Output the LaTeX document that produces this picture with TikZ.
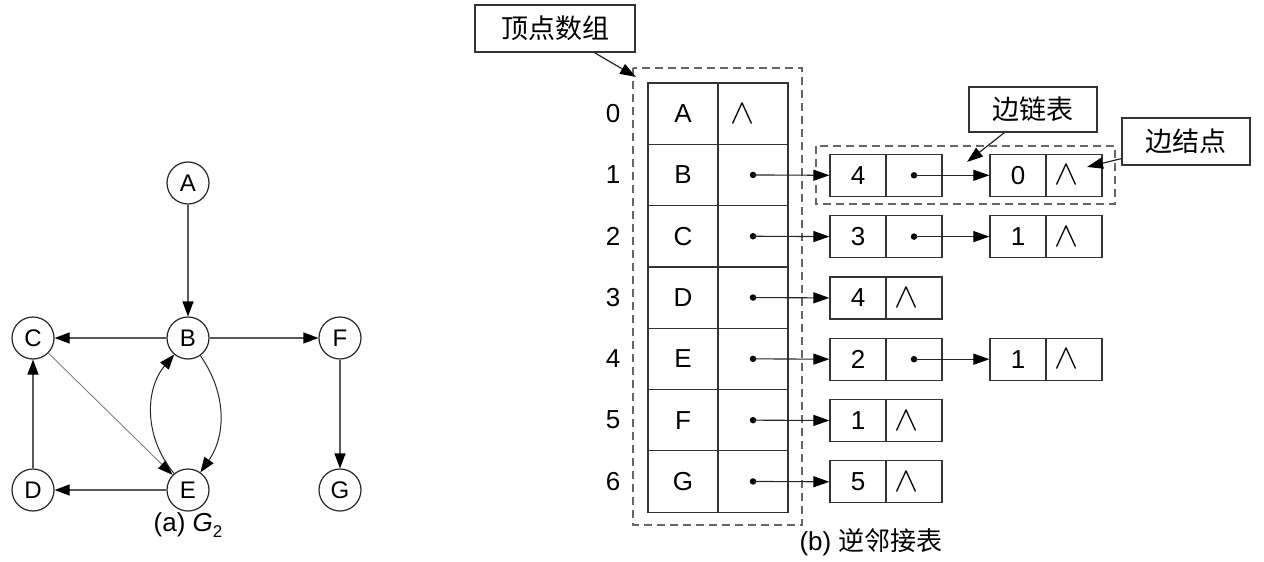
\documentclass[tikz,border=0pt]{standalone}
\usepackage{fontspec}
\setmainfont{Liberation Sans}
\newfontfamily\cjk{Noto Sans CJK SC}
\usetikzlibrary{arrows.meta}
\newcommand{\nullptr}{\scalebox{1.45}[1.4]{\fontsize{24.88}{24.88}\selectfont$\wedge$}}
\begin{document}
\begin{tikzpicture}[x=1pt,y=1pt,
  cell/.style={draw=black!80, line width=1.2pt, minimum width=70pt, minimum height=61.3pt, inner sep=0pt, font=\fontsize{26}{26}\selectfont},
  ecell/.style={draw=black!80, line width=1.2pt, minimum width=56pt, minimum height=42pt, inner sep=0pt, font=\fontsize{26}{26}\selectfont},
  vtx/.style={circle, draw=black!85, line width=1.2pt, minimum size=42pt, inner sep=0pt, font=\fontsize{24}{24}\selectfont},
  garr/.style={-{Triangle[length=15pt,width=11pt,color=black]}, line width=1.2pt, draw=black!65},
  arr/.style={-{Triangle[length=16pt,width=11pt,color=black]}, line width=1.1pt, draw=black!85},
  ptr/.style={circle, fill=black, inner sep=0pt, minimum size=6.5pt},
  dbox/.style={draw=black!60, dash pattern=on 8pt off 5pt, line width=1.4pt},
  call/.style={draw=black!80, line width=1.2pt, inner sep=0pt, font=\cjk\fontsize{27}{27}\selectfont},
  nul/.style={inner sep=0pt},
  idx/.style={font=\fontsize{26}{26}\selectfont},
  lbl/.style={font=\fontsize{26}{26}\selectfont}
]
\useasboundingbox (0,0) rectangle (1264,-562);

% ---------- graph G2 ----------
\node[vtx] (A) at (188,-183) {A};
\node[vtx] (B) at (188,-338) {B};
\node[vtx] (C) at (33,-338) {C};
\node[vtx] (F) at (340,-338) {F};
\node[vtx] (D) at (33,-490) {D};
\node[vtx] (E) at (188,-490) {E};
\node[vtx] (G) at (340,-490) {G};
\draw[garr] (A) -- (B);
\draw[garr] (B) -- (C);
\draw[garr] (B) -- (F);
\draw[garr] (F) -- (G);
\draw[garr] (D) -- (C);
\draw[garr] (E) -- (D);
\draw[garr, draw=black!50, line width=0.9pt] (C) -- (E);
\draw[garr, line width=1pt, draw=black!85] (B) to[bend left=35] (E);
\draw[garr, line width=1pt, draw=black!85] (E) to[bend left=40] (B);
\node[lbl] (capa) at (188,-525) {(a) \textit{G}\raisebox{-0.22em}{\fontsize{17}{17}\selectfont 2}};

% ---------- vertex array ----------
\draw[dbox] (633,-68) rectangle (802,-525);
\foreach \i/\v in {0/A,1/B,2/C,3/D,4/E,5/F,6/G}{
  \pgfmathsetmacro{\yy}{83+61.3*(\i+0.5)}
  \node[cell] (v\i) at (683,-\yy) {\v};
  \node[cell] (p\i) at (753,-\yy) {};
  \node[idx] (n\i) at (613,-\yy) {\i};
}
\node[nul] (z0) at ([xshift=-10pt]p0.center) {\nullptr};

% ---------- edge lists ----------
\draw[dbox] (816,-146) rectangle (1115,-204);
% row 1
\node[ecell] (e1a) at (858,-175.3) {4};
\node[ecell] (e1b) at (914,-175.3) {};
\node[ecell] (f1a) at (1018,-175.3) {0};
\node[ecell] (f1b) at (1074,-175.3) {};
\node[nul] (z1) at ([xshift=-7pt]f1b.center) {\nullptr};
% row 2
\node[ecell] (e2a) at (858,-236.6) {3};
\node[ecell] (e2b) at (914,-236.6) {};
\node[ecell] (f2a) at (1018,-236.6) {1};
\node[ecell] (f2b) at (1074,-236.6) {};
\node[nul] (z2) at ([xshift=-7pt]f2b.center) {\nullptr};
% row 3
\node[ecell] (e3a) at (858,-297.9) {4};
\node[ecell] (e3b) at (914,-297.9) {};
\node[nul] (z3) at ([xshift=-7pt]e3b.center) {\nullptr};
% row 4
\node[ecell] (e4a) at (858,-359.2) {2};
\node[ecell] (e4b) at (914,-359.2) {};
\node[ecell] (f4a) at (1018,-359.2) {1};
\node[ecell] (f4b) at (1074,-359.2) {};
\node[nul] (z4) at ([xshift=-7pt]f4b.center) {\nullptr};
% row 5
\node[ecell] (e5a) at (858,-420.5) {1};
\node[ecell] (e5b) at (914,-420.5) {};
\node[nul] (z5) at ([xshift=-7pt]e5b.center) {\nullptr};
% row 6
\node[ecell] (e6a) at (858,-481.8) {5};
\node[ecell] (e6b) at (914,-481.8) {};
\node[nul] (z6) at ([xshift=-7pt]e6b.center) {\nullptr};

% pointers
\foreach \i in {1,...,6}{
  \node[ptr] (d\i) at (p\i.center) {};
  \draw[arr] (d\i.center) -- (e\i a.west);
}
\foreach \i in {1,2,4}{
  \node[ptr] (g\i) at (e\i b.center) {};
  \draw[arr] (g\i.center) -- (f\i a.west);
}

% ---------- callouts ----------
\node[call, minimum width=160pt, minimum height=47pt] (c1) at (555,-28.5) {顶点数组};
\node[call, minimum width=128pt, minimum height=45pt] (c2) at (1033,-109.5) {边链表};
\node[call, minimum width=128pt, minimum height=47pt] (c3) at (1186,-141.5) {边结点};
\coordinate (t1) at (636,-77);
\coordinate (t2) at (967,-162);
\coordinate (t3) at (1087,-167);
\draw[arr, line width=1.2pt] ([xshift=120pt]c1.south west) -- (t1);
\draw[arr, line width=1.2pt] ([xshift=36pt]c2.south west) -- (t2);
\draw[arr, line width=1.2pt] ([yshift=7pt]c3.south west) -- (t3);

\node[lbl] (capb) at (871,-542) {(b) {\cjk 逆邻接表}};
\end{tikzpicture}
\end{document}
